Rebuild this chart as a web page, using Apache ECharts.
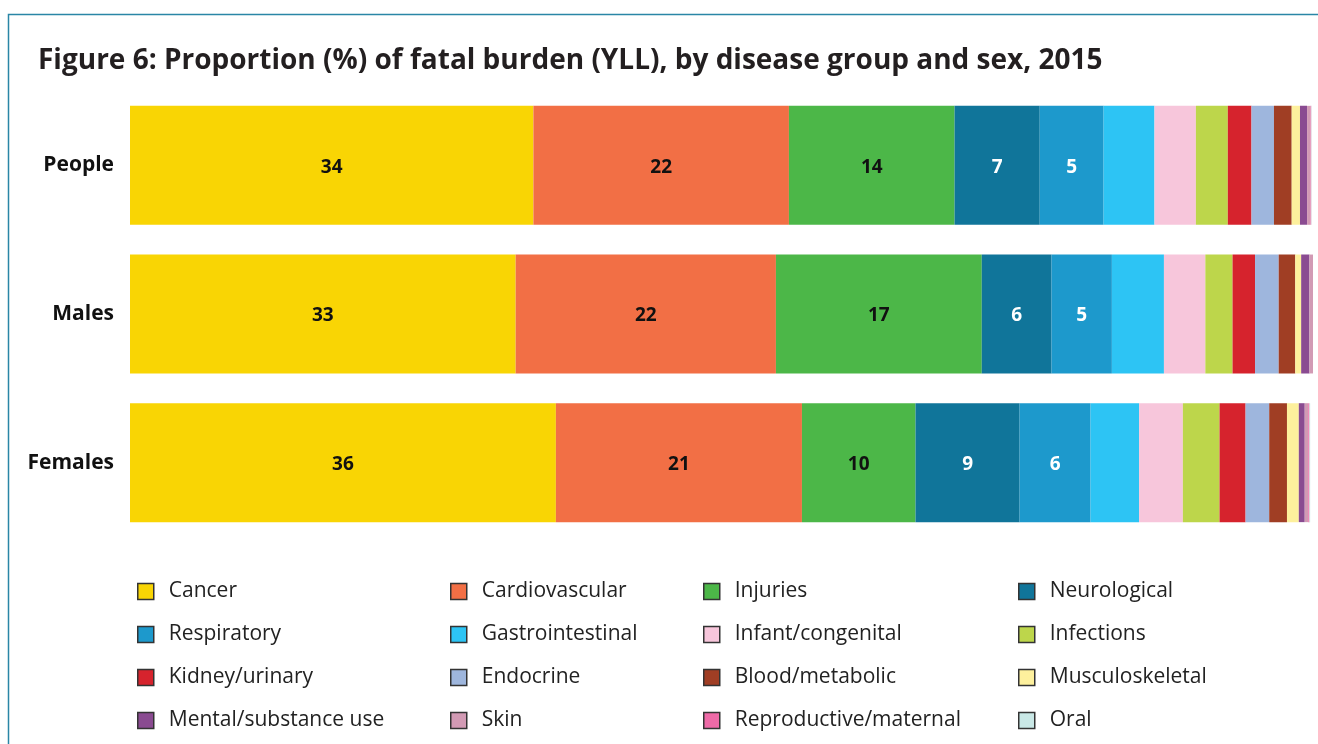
<!DOCTYPE html>
<html>
<head>
<meta charset="utf-8">
<script src="https://cdn.jsdelivr.net/npm/echarts@6/dist/echarts.min.js"></script>
<style>
  html, body { margin: 0; padding: 0; background: #fff; }
  #main { width: 1318px; height: 744px; }
</style>
</head>
<body>
<div id="main"></div>
<script>
// groups shown on the y axis (top to bottom)
var groups = ['People', 'Males', 'Females'];

// disease groups, in stacking / legend order
var diseases = ['Cancer', 'Cardiovascular', 'Injuries', 'Neurological',
  'Respiratory', 'Gastrointestinal', 'Infant/congenital', 'Infections',
  'Kidney/urinary', 'Endocrine', 'Blood/metabolic', 'Musculoskeletal',
  'Mental/substance use', 'Skin', 'Reproductive/maternal', 'Oral'];

var diseaseColors = ['#F9D504', '#F26F45', '#4CB748', '#10759A',
  '#1D99CC', '#2DC4F4', '#F7C6DB', '#BDD64B',
  '#D6232D', '#9EB6DD', '#A03E24', '#FDF09D',
  '#8A4B91', '#D29AB4', '#EE6AA7', '#C9E8E6'];

// share (%) of YLL per disease group: People, Males, Females
var cancer        = [34.1, 32.6, 36.0];
var cardio        = [21.6, 22.0, 20.8];
var injuries      = [14.0, 17.4, 9.6];
var neuro         = [7.2, 5.9, 8.8];
var respiratory   = [5.4, 5.1, 6.0];
var gastro        = [4.3, 4.4, 4.1];
var infant        = [3.5, 3.5, 3.7];
var infections    = [2.7, 2.3, 3.1];
var kidney        = [2.0, 1.9, 2.2];
var endocrine     = [1.9, 2.0, 2.0];
var blood         = [1.5, 1.4, 1.5];
var musculo       = [0.7, 0.5, 1.0];
var mental        = [0.6, 0.7, 0.5];
var skin          = [0.3, 0.3, 0.3];
var reproductive  = [0.05, 0.02, 0.1];
var oral          = [0.03, 0.03, 0.06];

var values = [cancer, cardio, injuries, neuro, respiratory, gastro, infant,
  infections, kidney, endocrine, blood, musculo, mental, skin, reproductive, oral];

// only the five biggest groups carry a label
var labelled = 5;
var labelColors = ['#111', '#111', '#111', '#fff', '#fff'];

var font = '"Open Sans", "Noto Sans", sans-serif';

var series = diseases.map(function (name, i) {
  return {
    name: name,
    type: 'bar',
    stack: 'total',
    barCategoryGap: '20%',
    data: values[i],
    itemStyle: { color: diseaseColors[i] },
    label: {
      show: i < labelled,
      position: 'inside',
      offset: [0, 2],
      color: labelColors[i] || '#111',
      fontFamily: font,
      fontWeight: 'bold',
      fontSize: 19,
      formatter: function (p) { return Math.round(p.value); }
    },
    emphasis: { disabled: true }
  };
});

// legend: 4 columns, filled row by row
var colX = [137, 450, 703, 1018];
var legends = colX.map(function (x, c) {
  var items = [];
  for (var r = 0; r < 4; r++) items.push(diseases[r * 4 + c]);
  return {
    left: x,
    top: 581,
    padding: 0,
    orient: 'vertical',
    itemWidth: 16,
    itemHeight: 16,
    itemGap: 22,
    icon: 'rect',
    selectedMode: false,
    data: items,
    itemStyle: { borderColor: '#333', borderWidth: 1.5 },
    textStyle: { fontFamily: font, fontSize: 21, color: '#222', padding: [0, 0, 0, 10] }
  };
});

var myChart = echarts.init(document.getElementById('main'));
var option = {
  animation: false,
  color: diseaseColors,
  title: {
    text: 'Figure 6: Proportion (%) of fatal burden (YLL), by disease group and sex, 2015',
    left: 33,
    top: 42,
    textStyle: { fontFamily: font, fontSize: 28, fontWeight: 'bold', color: '#231f20' }
  },
  graphic: [{
    type: 'rect',
    shape: { x: 8.5, y: 14.5, width: 1330, height: 760 },
    style: { fill: 'none', stroke: '#2a86a6', lineWidth: 1.5 },
    silent: true
  }],
  legend: legends,
  grid: { left: 130, right: 5, top: 91, height: 446, containLabel: false },
  xAxis: {
    type: 'value',
    min: 0,
    max: 100,
    show: false
  },
  yAxis: {
    type: 'category',
    data: groups,
    inverse: true,
    axisLine: { show: false },
    axisTick: { show: false },
    axisLabel: {
      margin: 16,
      fontFamily: font,
      fontSize: 21,
      fontWeight: 'bold',
      color: '#111'
    }
  },
  series: series
};
myChart.setOption(option);
</script>
</body>
</html>
